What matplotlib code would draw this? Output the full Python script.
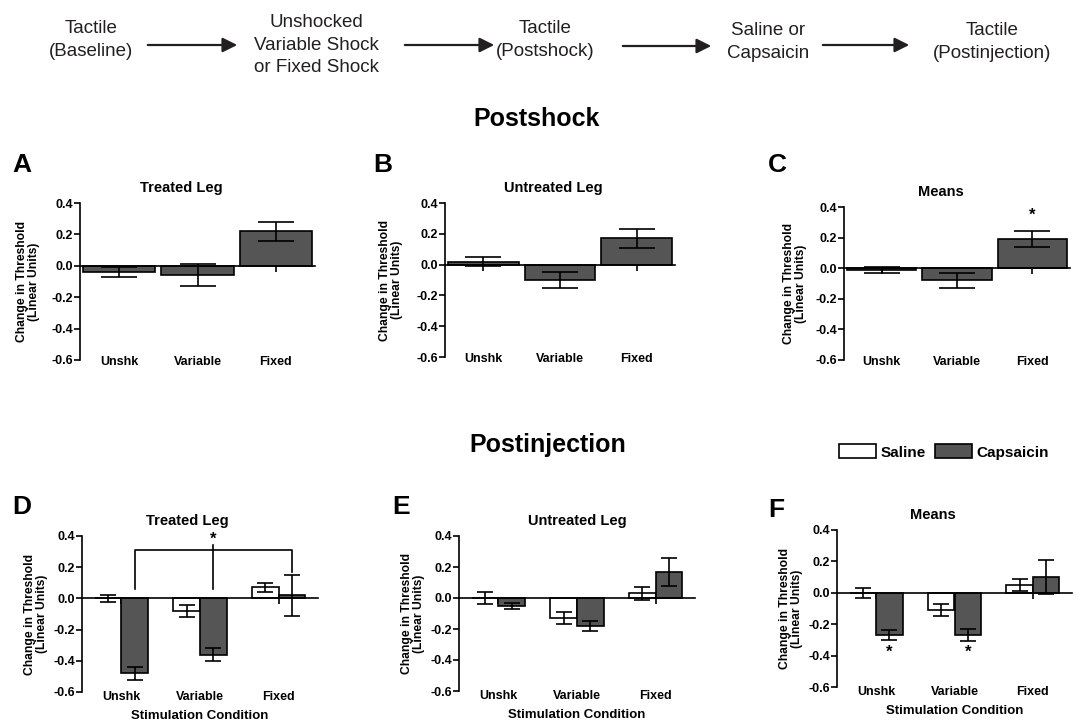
import numpy as np
import matplotlib.pyplot as plt
from matplotlib.patches import Patch, FancyArrowPatch

plt.rcParams['font.family'] = ['Liberation Sans', 'DejaVu Sans']
plt.rcParams['font.weight'] = 'bold'
plt.rcParams['axes.titleweight'] = 'bold'
plt.rcParams['axes.labelweight'] = 'bold'

W, H = 1076, 722

# data
cats = ['Unshk', 'Variable', 'Fixed']

post_treated = [-0.04, -0.06, 0.22]
post_treated_err = [0.03, 0.07, 0.06]
post_untreated = [0.02, -0.10, 0.17]
post_untreated_err = [0.03, 0.05, 0.06]
post_means = [-0.01, -0.08, 0.19]
post_means_err = [0.02, 0.05, 0.05]

inj_treated_sal = [0.0, -0.08, 0.07]
inj_treated_sal_err = [0.02, 0.04, 0.03]
inj_treated_cap = [-0.48, -0.36, 0.02]
inj_treated_cap_err = [0.04, 0.04, 0.13]

inj_untreated_sal = [0.0, -0.13, 0.03]
inj_untreated_sal_err = [0.04, 0.04, 0.04]
inj_untreated_cap = [-0.05, -0.18, 0.17]
inj_untreated_cap_err = [0.02, 0.03, 0.09]

inj_means_sal = [0.0, -0.11, 0.05]
inj_means_sal_err = [0.03, 0.04, 0.04]
inj_means_cap = [-0.27, -0.27, 0.10]
inj_means_cap_err = [0.03, 0.04, 0.11]

steps = ['Tactile\n(Baseline)', 'Unshocked\nVariable Shock\nor Fixed Shock',
         'Tactile\n(Postshock)', 'Saline or\nCapsaicin', 'Tactile\n(Postinjection)']

DARK = '#555555'


def px(x, y):
    return x / W, 1 - y / H


def rect(x0, y0, x1, y1):
    return [x0 / W, 1 - y1 / H, (x1 - x0) / W, (y1 - y0) / H]


fig = plt.figure(figsize=(W / 100, H / 100), dpi=100)

# flow diagram along the top
flow = dict(family=['Liberation Sans', 'DejaVu Sans'], fontsize=13.5,
            fontweight='normal', color='#231f20', ha='center', va='center',
            linespacing=1.45)
step_pos = [(91, 40), (316, 45), (545, 40), (768, 42), (992, 42)]
for s, (x, y) in zip(steps, step_pos):
    fig.text(*px(x, y), s, **flow)
arrows = [(145, 240, 45), (402, 497, 45), (620, 714, 46), (820, 912, 45)]
for x0, x1, y in arrows:
    fig.add_artist(FancyArrowPatch(px(x0, y), px(x1, y), transform=fig.transFigure,
                                   arrowstyle='-|>', mutation_scale=22, lw=1.6,
                                   color='#231f20'))

fig.text(*px(537, 119), 'Postshock', fontsize=18, ha='center', va='center')
fig.text(*px(548, 445), 'Postinjection', fontsize=18, ha='center', va='center')


def setup(ax, title, tx, letter, lxy, lab_gap, xlabel=None):
    ax.set_xlim(-0.5, 2.5)
    ax.set_ylim(-0.6, 0.4)
    ax.set_yticks([-0.6, -0.4, -0.2, 0.0, 0.2, 0.4])
    ax.set_yticklabels(['-0.6', '-0.4', '-0.2', '0.0', '0.2', '0.4'])
    ax.spines['top'].set_visible(False)
    ax.spines['right'].set_visible(False)
    ax.spines['bottom'].set_position(('data', 0))
    for sp in ('left', 'bottom'):
        ax.spines[sp].set_linewidth(1.2)
    ax.tick_params(axis='y', labelsize=9, length=4, width=1.2, pad=1)
    ax.set_xticks(range(len(cats)))
    ax.tick_params(axis='x', labelbottom=False, length=4, width=1.2)
    sec = ax.secondary_xaxis('bottom')
    sec.set_xticks(range(len(cats)), labels=cats)
    sec.tick_params(length=0, labelsize=9, pad=-3 if xlabel is None else -1)
    sec.spines['bottom'].set_visible(False)
    if xlabel:
        sec.set_xlabel(xlabel, fontsize=9.5, labelpad=5)
    ax.set_title(title, fontsize=10.5, x=tx, pad=8)
    ax.set_ylabel('Change in Threshold\n(Linear Units)', fontsize=8.7, linespacing=1.0)
    w = ax.get_position().width * W
    ax.yaxis.set_label_coords(-lab_gap / w, 0.5)
    fig.text(*px(*lxy), letter, fontsize=19, ha='left', va='center')


def single(ax, vals, errs):
    x = np.arange(len(cats))
    ax.bar(x, vals, width=0.92, color=DARK, edgecolor='black', linewidth=1.2, zorder=2)
    ax.errorbar(x, vals, yerr=errs, fmt='none', ecolor='black', elinewidth=1.2,
                capsize=13, capthick=1.2, zorder=3)


def grouped(ax, sal, sal_err, cap, cap_err):
    x = np.arange(len(cats))
    w = 0.34
    ax.bar(x - w / 2, sal, width=w, color='white', edgecolor='black', linewidth=1.2, zorder=2)
    ax.bar(x + w / 2, cap, width=w, color=DARK, edgecolor='black', linewidth=1.2, zorder=2)
    ax.errorbar(x - w / 2, sal, yerr=sal_err, fmt='none', ecolor='black', elinewidth=1.2,
                capsize=5.5, capthick=1.2, zorder=3)
    ax.errorbar(x + w / 2, cap, yerr=cap_err, fmt='none', ecolor='black', elinewidth=1.2,
                capsize=5.5, capthick=1.2, zorder=3)


axA = fig.add_axes(rect(80, 203, 315, 360))
single(axA, post_treated, post_treated_err)
setup(axA, 'Treated Leg', 0.43, 'A', (12, 165), 40)

axB = fig.add_axes(rect(445, 203, 675, 357))
single(axB, post_untreated, post_untreated_err)
setup(axB, 'Untreated Leg', 0.47, 'B', (373, 165), 42)

axC = fig.add_axes(rect(844, 207, 1070, 360))
single(axC, post_means, post_means_err)
setup(axC, 'Means', 0.43, 'C', (768, 165), 37)
axC.text(2, 0.30, '*', ha='center', va='bottom', fontsize=12)

axD = fig.add_axes(rect(82, 536, 318, 692))
grouped(axD, inj_treated_sal, inj_treated_sal_err, inj_treated_cap, inj_treated_cap_err)
setup(axD, 'Treated Leg', 0.445, 'D', (12, 507), 34, 'Stimulation Condition')
# bracket over the capsaicin bars
bx = np.arange(len(cats)) + 0.17
axD.plot([bx[0], bx[0], bx[2], bx[2]], [0.06, 0.31, 0.31, 0.17], color='black', lw=1.2)
axD.plot([bx[1], bx[1]], [0.06, 0.34], color='black', lw=1.2)
axD.text(bx[1], 0.33, '*', ha='center', va='bottom', fontsize=12)

axE = fig.add_axes(rect(459, 536, 695, 691))
grouped(axE, inj_untreated_sal, inj_untreated_sal_err, inj_untreated_cap, inj_untreated_cap_err)
setup(axE, 'Untreated Leg', 0.5, 'E', (392, 507), 34, 'Stimulation Condition')

axF = fig.add_axes(rect(837, 530, 1072, 687))
grouped(axF, inj_means_sal, inj_means_sal_err, inj_means_cap, inj_means_cap_err)
setup(axF, 'Means', 0.41, 'F', (768, 510), 34, 'Stimulation Condition')
for i in (0, 1):
    axF.text(i + 0.17, -0.33, '*', ha='center', va='top', fontsize=12)

handles = [Patch(facecolor='white', edgecolor='black', linewidth=1.2),
           Patch(facecolor=DARK, edgecolor='black', linewidth=1.2)]
fig.legend(handles, ['Saline', 'Capsaicin'], loc='center', bbox_to_anchor=px(944, 452),
           ncol=2, frameon=False, handlelength=2.4, handleheight=1.0,
           columnspacing=0.6, handletextpad=0.3, prop={'size': 11, 'weight': 'bold'})

fig.savefig('out.png', dpi=100)
